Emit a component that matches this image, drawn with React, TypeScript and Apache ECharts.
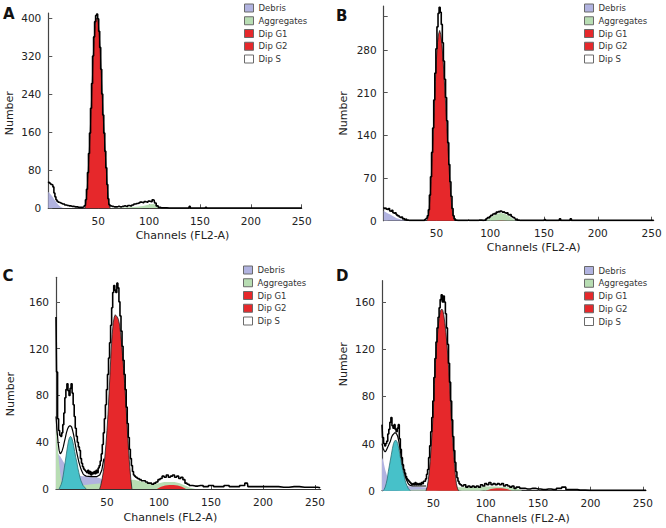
import React, { useEffect, useRef } from "react";
import * as echarts from "echarts";

type Pt = [number, number];

// ---------- text / ticks ----------
const legendNames = ["Debris", "Aggregates", "Dip G1", "Dip G2", "Dip S"];
const panelLetters = ["A", "B", "C", "D"];
const xTickValues = [50, 100, 150, 200, 250];
const yTicksA = [0, 80, 160, 240, 320, 400];
const yTicksB = [0, 70, 140, 210, 280];
const yTickMarksB = [0, 70, 140, 210, 280, 335];
const yTicksCD = [0, 40, 80, 120, 160];

// ---------- panel A ----------
const histA: Pt[] = [[1,56],[2,54],[3,52],[4,50],[5,49],[6,45],[7,32],[8,24],[9,18],[10,15],[11,13],[12,12],[13,11],[14,10],[15,9],[16,9],[18,7],[20,6],[22,5],[25,4],[28,3],[31,2],[34,2],[36,3],[37,6],[38,18],[39,40],[40,75],[41,115],[42,158],[43,210],[44,262],[45,320],[46,360],[47,392],[48,405],[49,408],[50,398],[51,372],[52,338],[53,292],[54,240],[55,196],[56,158],[57,120],[58,85],[59,50],[60,20],[61,8],[62,5],[64,4],[66,3],[68,3],[70,4],[72,3],[74,4],[76,5],[78,4],[80,6],[82,5],[84,7],[86,9],[88,10],[90,11],[92,13],[94,12],[96,14],[98,13],[100,15],[102,14],[104,18],[105,17],[106,11],[108,5],[110,2],[112,1],[115,1],[120,0.5],[139,0.5],[140,4],[141,0.5],[155,0.5],[156,2],[157,0.5],[250,0.5]];
const debrisA: Pt[] = [[1,35],[3,30],[5,25],[7,18],[9,12],[11,7],[13,3],[15,1],[18,0]];
const aggA: Pt[] = [[60,0.5],[70,1],[80,2],[88,3],[94,5],[98,7],[101,8.5],[104,9],[107,8],[109,5],[111,2],[113,0]];
const g1A: Pt[] = [[37,0],[38,12],[39,35],[40,70],[41,110],[42,152],[43,204],[44,256],[45,312],[46,352],[47,384],[48,398],[49,400],[50,392],[51,366],[52,332],[53,286],[54,235],[55,190],[56,152],[57,114],[58,80],[59,45],[60,16],[61,4],[62,0]];
const g2A: Pt[] = [[98,0],[104,0.5],[110,0]];
const sA: Pt[] = [[62,0],[80,2],[95,0]];

// ---------- panel B ----------
const histB: Pt[] = [[1,22],[2,20],[3,21],[4,19],[5,18],[6,20],[7,16],[8,15],[9,17],[10,13],[11,12],[12,13],[13,10],[14,8],[15,9],[16,6],[17,5],[18,6],[19,3],[20,4],[21,2],[22,3],[23,1],[25,0.5],[38,0.5],[40,2],[41,4],[42,8],[43,18],[44,42],[45,72],[46,112],[47,152],[48,198],[49,242],[50,282],[51,318],[52,340],[53,350],[54,342],[55,322],[56,292],[57,262],[58,232],[59,202],[60,164],[61,128],[62,92],[63,64],[64,40],[65,20],[66,8],[67,3],[68,1],[70,0.5],[79,0.5],[80,1],[81,0.5],[89,0.5],[90,1],[94,0.5],[95,1],[97,3],[98,5],[99,4],[100,7],[101,9],[102,8],[103,11],[104,12],[105,11],[106,14],[107,13],[108,15],[109,14],[110,16],[111,15],[112,14],[113,15],[114,13],[115,12],[116,13],[117,10],[118,9],[119,10],[120,7],[121,6],[122,5],[123,4],[124,2],[125,3],[126,1],[128,0.5],[150,0.5],[151,2],[152,0.5],[164,0.5],[165,3],[166,0.5],[174,0.5],[175,3],[176,0.5],[252,0.5]];
const debrisB: Pt[] = [[1,16],[3,14],[5,12],[7,10],[9,8],[11,6],[13,4],[15,3],[17,2],[19,1],[21,0]];
const aggB: Pt[] = [[96,0],[98,2],[100,5],[102,7],[104,9],[106,11],[108,12],[110,12.5],[112,12],[114,11],[116,9],[118,7],[120,4],[122,2],[124,0]];
const g1B: Pt[] = [[41,0],[42,4],[43,14],[44,36],[45,64],[46,102],[47,142],[48,185],[49,228],[50,264],[51,292],[52,306],[53,312],[54,306],[55,292],[56,268],[57,240],[58,210],[59,178],[60,144],[61,110],[62,78],[63,52],[64,30],[65,14],[66,5],[67,0]];
const g2B: Pt[] = [[104,0],[110,0.5],[116,0]];
const sB: Pt[] = [[68,0],[80,1],[95,0]];

// ---------- panel C ----------
const histC: Pt[] = [[1,147],[2,100],[3,60],[4,50],[5,46],[6,45],[7,48],[8,55],[9,65],[10,78],[11,85],[12,90],[13,84],[14,80],[15,86],[16,90],[17,82],[18,72],[19,62],[20,52],[21,45],[22,40],[23,36],[24,33],[25,26],[26,22],[27,19],[28,17],[29,16],[30,15],[31,14],[32,16],[33,13],[34,15],[35,12],[36,14],[37,13],[38,15],[39,13],[40,16],[41,14],[42,18],[43,20],[44,24],[45,30],[46,38],[47,48],[48,60],[49,72],[50,85],[51,98],[52,112],[53,125],[54,140],[55,155],[56,168],[57,174],[58,170],[59,168],[60,176],[61,172],[62,160],[63,148],[64,135],[65,122],[66,110],[67,98],[68,85],[69,70],[70,56],[71,44],[72,34],[73,26],[74,20],[75,15],[76,12],[77,11],[78,10],[80,9],[82,8],[84,7],[86,7],[88,6],[90,5],[92,5],[94,4],[96,5],[98,6],[100,8],[102,9],[104,11],[106,10],[108,12],[110,10],[112,11],[114,12],[116,10],[118,11],[120,9],[122,10],[124,8],[126,5],[128,4],[130,3],[135,2.5],[140,3],[145,2],[150,3],[155,2],[160,2],[165,3],[170,2],[175,2],[180,3],[185,5],[186,2],[190,2],[200,2],[210,2],[220,1.5],[230,2],[240,1.5],[250,1.5],[255,1]];
const debrisC: Pt[] = [[1,35],[3,30],[5,28],[7,25],[9,22],[11,19],[14,16],[18,14],[22,12],[26,11],[30,11],[35,10],[40,10],[44,9],[47,6],[50,3],[54,0]];
const aggC: Pt[] = [[1,55],[2,45],[3,32],[4,22],[5,14],[6,8],[7,4],[9,2],[15,2],[25,3],[35,4],[45,5],[55,6],[65,7],[72,8],[76,8],[80,7],[85,6],[90,5],[95,4],[100,5],[105,6],[110,6],[115,6],[120,5],[125,3],[130,1],[135,0]];
const g1C: Pt[] = [[43,0],[44,3],[45,7],[46,12],[47,18],[48,28],[49,38],[50,50],[51,64],[52,82],[53,100],[54,118],[55,132],[56,142],[57,147],[58,149],[59,148],[60,147],[61,145],[62,141],[63,134],[64,125],[65,114],[66,103],[67,90],[68,76],[69,60],[70,44],[71,30],[72,18],[73,8],[74,0]];
const g2C: Pt[] = [[98,0],[102,2],[106,3],[110,3.5],[114,3.5],[118,3],[122,2],[126,0]];
const sC: Pt[] = [[74,0],[85,2],[98,0]];
const cyanC: Pt[] = [[4,0],[5,2],[6,4],[7,7],[8,12],[9,18],[10,24],[11,30],[12,36],[13,41],[14,44],[15,45],[16,44],[17,41],[18,37],[19,32],[20,27],[21,23],[22,18],[23,14],[24,10],[25,7],[26,5],[27,3],[28,2],[30,0]];
const fitC: Pt[] = [[1,62],[2,50],[3,40],[4,33],[5,30],[6,31],[7,33],[8,36],[9,40],[10,44],[11,48],[12,51],[13,53],[14,54],[15,54],[16,53],[17,50],[18,46],[19,41],[20,36],[21,31],[22,27],[23,23],[24,20],[25,17],[26,15],[27,13],[28,12],[30,11],[35,10.5],[40,10.5],[43,12],[45,16],[47,26]];

// ---------- panel D ----------
const histD: Pt[] = [[1,56],[2,45],[3,40],[4,38],[5,40],[6,42],[7,48],[8,52],[9,58],[10,62],[11,55],[12,53],[13,56],[14,52],[15,50],[16,53],[17,56],[18,44],[19,35],[20,28],[21,22],[22,18],[23,15],[24,12],[25,10],[26,9],[27,8],[28,7],[29,6],[30,5],[31,6],[32,5],[33,7],[34,5],[35,6],[36,5],[37,6],[38,5],[39,7],[40,6],[41,8],[42,8],[43,10],[44,14],[45,18],[46,28],[47,38],[48,50],[49,62],[50,76],[51,96],[52,112],[53,126],[54,138],[55,147],[56,155],[57,162],[58,166],[59,160],[60,165],[61,160],[62,150],[63,138],[64,124],[65,108],[66,92],[67,76],[68,60],[69,46],[70,34],[71,24],[72,16],[73,11],[74,8],[75,6],[76,5],[78,4],[80,5],[82,3],[84,4],[86,3],[88,4],[90,3],[92,4],[94,3],[96,5],[98,4],[100,6],[102,5],[104,7],[106,5],[108,6],[110,5],[112,6],[114,5],[116,6],[118,4],[120,5],[122,4],[124,3],[126,4],[128,2],[130,3],[135,2],[140,1.5],[145,2],[150,1.5],[155,1],[160,1.5],[165,1],[170,2],[175,3],[178,1],[185,1],[190,0.5],[200,0.3],[253,0.3]];
const debrisD: Pt[] = [[1,28],[2,26],[3,22],[4,18],[6,12],[8,8],[10,6],[14,5],[20,4],[25,4],[30,3.5],[40,3],[45,2.5],[50,1],[55,0]];
const aggD: Pt[] = [[15,0],[20,0.5],[40,1],[60,2],[75,3],[90,3],[100,3.5],[110,3.5],[120,3],[130,2],[135,0]];
const g1D: Pt[] = [[43,0],[44,3],[45,8],[46,15],[47,25],[48,38],[49,52],[50,68],[51,90],[52,108],[53,122],[54,133],[55,142],[56,149],[57,153],[58,154],[59,153],[60,149],[61,142],[62,134],[63,124],[64,112],[65,98],[66,82],[67,66],[68,50],[69,36],[70,24],[71,14],[72,6],[73,2],[74,0]];
const g2D: Pt[] = [[100,0],[105,1.5],[110,2],[115,2],[120,1.5],[125,0]];
const sD: Pt[] = [[74,0],[85,2],[98,0]];
const cyanD: Pt[] = [[2,0],[3,1],[4,3],[5,6],[6,10],[7,16],[8,21],[9,26],[10,31],[11,36],[12,40],[13,42],[14,43],[15,42],[16,40],[17,36],[18,31],[19,26],[20,21],[21,17],[22,13],[23,9],[24,6],[25,4],[26,2],[27,1],[28,0]];
const fitD: Pt[] = [[1,40],[2,36],[3,34],[4,33],[5,34],[6,36],[7,38],[8,40],[9,42],[10,45],[11,47],[12,48],[13,49],[14,49],[15,48],[16,46],[17,42],[18,37],[19,31],[20,26],[21,21],[22,17],[23,13],[24,10],[25,8],[26,6],[27,5],[28,4.5],[30,4],[35,4],[40,4],[43,4]];

// ---------- styling ----------
const FONT = "'DejaVu Sans', Verdana, sans-serif";
const COLORS: Record<string, string> = {
  Debris: "#b1b3e0",
  Aggregates: "#b8ddb3",
  "Dip G1": "#e6282b",
  "Dip G2": "#e6282b",
  "Dip S": "#ffffff",
  Cyan: "#47c1c9",
};

const panels = [
  { hist: histA, debris: debrisA, agg: aggA, g1: g1A, g2: g2A, s: sA, cyan: null as Pt[] | null, fit: null as Pt[] | null,
    xMax: 250, yMax: 410, yLabels: yTicksA, yMarks: yTicksA },
  { hist: histB, debris: debrisB, agg: aggB, g1: g1B, g2: g2B, s: sB, cyan: null, fit: null,
    xMax: 252, yMax: 352, yLabels: yTicksB, yMarks: yTickMarksB },
  { hist: histC, debris: debrisC, agg: aggC, g1: g1C, g2: g2C, s: sC, cyan: cyanC, fit: fitC,
    xMax: 255.5, yMax: 181, yLabels: yTicksCD, yMarks: yTicksCD },
  { hist: histD, debris: debrisD, agg: aggD, g1: g1D, g2: g2D, s: sD, cyan: cyanD, fit: fitD,
    xMax: 253, yMax: 178, yLabels: yTicksCD, yMarks: yTicksCD },
];

const frames = [
  { grid: { left: 48.3, top: 13.1, width: 253.4, height: 195.2 }, legend: { left: 244, top: 3 }, title: { left: 3, top: 6 },
    yGap: 33, yPad: [0, 5, 0, 0], xGap: 22, xPad: [0, 0, 0, 15] },
  { grid: { left: 383.7, top: 6.1, width: 270, height: 214.6 }, legend: { left: 584, top: 3 }, title: { left: 336, top: 8 },
    yGap: 35, yPad: [0, 0, 0, 0], xGap: 21, xPad: [0, 0, 0, 30] },
  { grid: { left: 56, top: 277.3, width: 264.7, height: 211.7 }, legend: { left: 243, top: 265 }, title: { left: 2.5, top: 268.5 },
    yGap: 40, yPad: [0, 22, 0, 0], xGap: 23, xPad: [0, 36, 0, 0] },
  { grid: { left: 382, top: 280.7, width: 264, height: 210 }, legend: { left: 584, top: 265.5 }, title: { left: 336, top: 268.5 },
    yGap: 33.5, yPad: [0, 0, 0, 43], xGap: 22, xPad: [0, 0, 0, 18] },
];

function areaSeries(name: string, data: Pt[], color: string, idx: number, z: number, edge?: string) {
  return {
    type: "line",
    name,
    xAxisIndex: idx,
    yAxisIndex: idx,
    data,
    symbol: "none",
    showSymbol: false,
    silent: true,
    z,
    itemStyle: { color },
    lineStyle: { width: edge ? 0.8 : 0, color: edge || color },
    areaStyle: { color, opacity: 1 },
  };
}

function lineSeries(name: string, data: Pt[], idx: number, z: number, width: number, step: boolean) {
  return {
    type: "line",
    name,
    xAxisIndex: idx,
    yAxisIndex: idx,
    data,
    step: step ? "middle" : false,
    symbol: "none",
    showSymbol: false,
    silent: true,
    z,
    itemStyle: { color: "#000" },
    lineStyle: { color: "#000", width },
  };
}

function buildOption() {
  const grid: any[] = [];
  const xAxis: any[] = [];
  const yAxis: any[] = [];
  const series: any[] = [];
  const legend: any[] = [];
  const title: any[] = [];

  panels.forEach((p, i) => {
    const f = frames[i];
    grid.push({ ...f.grid, containLabel: false, outerBoundsMode: "none" });
    xAxis.push({
      type: "value",
      gridIndex: i,
      min: 1,
      max: p.xMax,
      splitLine: { show: false },
      axisLine: { show: true, onZero: false, lineStyle: { color: "#333", width: 1.2 } },
      axisTick: { show: true, inside: true, length: 4, customValues: xTickValues, lineStyle: { color: "#555" } },
      axisLabel: { customValues: xTickValues, margin: 7, fontSize: 10.5, color: "#222", fontFamily: FONT },
      name: "Channels (FL2-A)",
      nameLocation: "middle",
      nameGap: f.xGap,
      nameMoveOverlap: false,
      nameTextStyle: { fontSize: 11, color: "#222", fontFamily: FONT, padding: f.xPad },
    });
    yAxis.push({
      type: "value",
      gridIndex: i,
      min: 0,
      max: p.yMax,
      splitLine: { show: false },
      axisLine: { show: true, onZero: false, lineStyle: { color: "#444", width: 1.2 } },
      axisTick: { show: true, inside: true, length: 4, customValues: p.yMarks, lineStyle: { color: "#555" } },
      axisLabel: { customValues: p.yLabels, margin: 7, fontSize: 10.5, color: "#222", fontFamily: FONT },
      name: "Number",
      nameLocation: "middle",
      nameGap: f.yGap,
      nameMoveOverlap: false,
      nameTextStyle: { fontSize: 11, color: "#222", fontFamily: FONT, padding: f.yPad },
    });

    series.push(areaSeries("Dip S", p.s, COLORS["Dip S"], i, 1));
    series.push(areaSeries("Debris", p.debris, COLORS.Debris, i, 2));
    series.push(areaSeries("Aggregates", p.agg, COLORS.Aggregates, i, 3));
    if (p.cyan) series.push(areaSeries("Aneuploid G1", p.cyan, COLORS.Cyan, i, 4, "#2a6f74"));
    series.push(areaSeries("Dip G2", p.g2, COLORS["Dip G2"], i, 5));
    series.push(areaSeries("Dip G1", p.g1, COLORS["Dip G1"], i, 6, "#222"));
    if (p.fit) series.push(lineSeries("Model fit", p.fit, i, 7, 1.2, false));
    series.push(lineSeries("Histogram", p.hist, i, 8, 1.6, true));

    legend.push({
      orient: "vertical",
      left: f.legend.left,
      top: f.legend.top,
      padding: 0,
      itemWidth: 9,
      itemHeight: 8,
      itemGap: 2.75,
      icon: "rect",
      selectedMode: false,
      textStyle: { fontSize: 8.5, color: "#333", fontFamily: FONT, lineHeight: 10 },
      data: legendNames.map((n) => ({
        name: n,
        icon: "rect",
        itemStyle: { color: COLORS[n], borderColor: "#6a6a6a", borderWidth: 1 },
      })),
    });

    title.push({
      text: panelLetters[i],
      left: f.title.left,
      top: f.title.top,
      padding: 0,
      textStyle: { fontSize: 15, fontWeight: "bold", color: "#111", fontFamily: FONT },
    });
  });

  return { animation: false, backgroundColor: "#ffffff", grid, xAxis, yAxis, series, legend, title };
}

export default function App() {
  const ref = useRef<HTMLDivElement>(null);
  useEffect(() => {
    if (!ref.current) return;
    const chart = echarts.init(ref.current, null, { renderer: "svg" });
    chart.setOption(buildOption() as any);
    return () => chart.dispose();
  }, []);
  return (
    <div
      ref={ref}
      style={{ position: "fixed", left: 0, top: 0, width: 666, height: 528, background: "#fff" }}
    />
  );
}
